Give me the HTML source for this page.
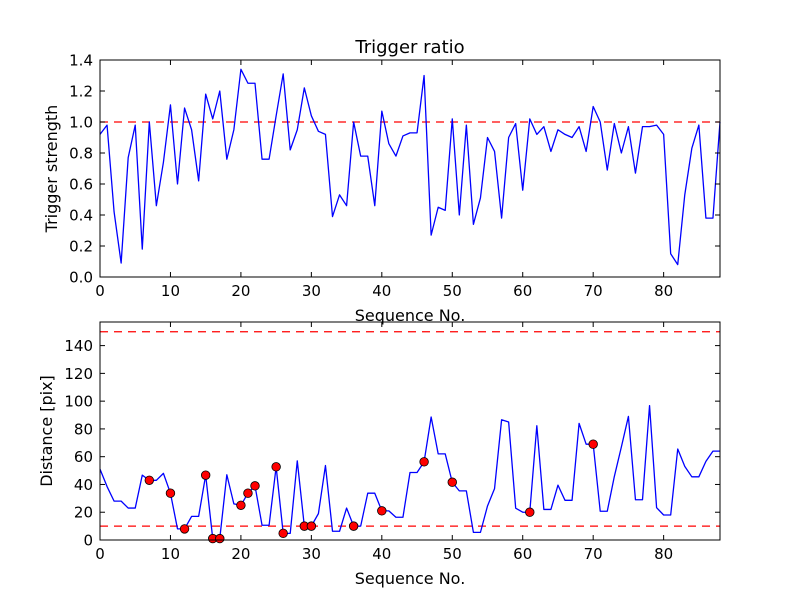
<!DOCTYPE html>
<html><head><meta charset="utf-8"><style>
body{margin:0;background:#fff;width:800px;height:600px;overflow:hidden}
svg text{font-family:"DejaVu Sans","Liberation Sans",sans-serif;fill:#000}
</style></head><body>
<svg id="chart" width="800" height="600" xmlns="http://www.w3.org/2000/svg"></svg>
<script>
const seqCount = 89;
const strength = [0.92,0.98,0.42,0.09,0.77,0.98,0.18,1.00,0.46,0.74,1.11,0.60,1.09,0.95,0.62,1.18,1.02,1.20,0.76,0.95,1.34,1.25,1.25,0.76,0.76,1.04,1.31,0.82,0.95,1.22,1.04,0.94,0.92,0.39,0.53,0.46,1.00,0.78,0.78,0.46,1.07,0.86,0.78,0.91,0.93,0.93,1.30,0.27,0.45,0.43,1.02,0.40,0.98,0.34,0.51,0.90,0.81,0.38,0.90,0.99,0.56,1.02,0.92,0.97,0.81,0.95,0.92,0.90,0.97,0.81,1.10,1.00,0.69,0.99,0.80,0.97,0.67,0.97,0.97,0.98,0.92,0.15,0.08,0.53,0.83,0.98,0.38,0.38,1.00];
const distance = [51,38.5,28,28,23,23,46.7,43,43,48,33.7,8,8,17,17,46.7,1,1,47,26,25,33.7,39,10.6,10.6,52.7,4.8,4.8,57,10,10,19,53.6,6.3,6.3,23,10,10,33.7,33.7,21,21,16.4,16.4,48.6,48.6,56.3,88.6,62,62,41.6,35.4,35.4,5.5,5.5,24.5,37,86.6,85,22.9,20,20,82.3,22,22,39.5,28.6,28.6,84,69,69,20.7,20.7,45.7,67,89,29,29,96.8,23.3,18,18,65.5,53,45.5,45.5,56.6,64,64];
const markerIdx = [7,10,12,15,16,17,20,21,22,25,26,29,30,36,40,46,50,61,70];
const xTicks = [0,10,20,30,40,50,60,70,80];
const topYTicks = [0.0,0.2,0.4,0.6,0.8,1.0,1.2,1.4];
const botYTicks = [0,20,40,60,80,100,120,140];
const topThreshold = [1.0];
const botThresholds = [10,150];

const NS="http://www.w3.org/2000/svg";
const svg=document.getElementById('chart');
function mk(tag,attrs,parent){const e=document.createElementNS(NS,tag);for(const k in attrs)e.setAttribute(k,attrs[k]);(parent||svg).appendChild(e);return e;}
const L=100,R=720;
const xS=v=>L+(v/88)*(R-L);

function panel(top,bot,ymax,prefix){
  const yS=v=>bot-(v/ymax)*(bot-top);
  const g=mk('g',{});
  
  
  return {g,yS};
}
function frame(p,top,bot,yTicks,fmt,prefix,ylabel){
  const g=p.g;
  const r=mk('rect',{x:L,y:top,width:R-L,height:bot-top,fill:'none',stroke:'#000','stroke-width':1},g);
  
  
  xTicks.forEach(t=>{const x=xS(t);
    mk('line',{x1:x,x2:x,y1:bot,y2:bot-5,stroke:'#000'},g);
    mk('line',{x1:x,x2:x,y1:top,y2:top+5,stroke:'#000'},g);
    const tx=mk('text',{x:x,y:bot+19,'text-anchor':'middle','font-size':15},g);
    tx.textContent=t;
    
    
  });
  yTicks.forEach(t=>{const y=p.yS(t);
    mk('line',{x1:L,x2:L+5,y1:y,y2:y,stroke:'#000'},g);
    mk('line',{x1:R,x2:R-5,y1:y,y2:y,stroke:'#000'},g);
    const tx=mk('text',{x:L-7,y:y+5.5,'text-anchor':'end','font-size':15},g);
    tx.textContent=fmt(t);
    
    
  });
  const xl=mk('text',{x:410,y:bot+44,'text-anchor':'middle','font-size':16},g);
  xl.textContent='Sequence No.';
  
  
  const cy=(top+bot)/2;
  const yl=mk('text',{x:0,y:0,'text-anchor':'middle','font-size':16,transform:`translate(${prefix==='top'?57:52},${cy}) rotate(-90)`},g);
  yl.textContent=ylabel;
  
  
}
function line(p,arr,prefix){
  const pts=arr.map((v,i)=>xS(i).toFixed(2)+','+p.yS(v).toFixed(2)).join(' ');
  const pl=mk('polyline',{points:pts,fill:'none',stroke:'#0000ff','stroke-width':1.3,'stroke-linejoin':'round'},p.g);
  
  
}
function hline(p,v,prefix){
  const y=p.yS(v);
  const l=mk('line',{x1:L,x2:R,y1:y,y2:y,stroke:'#ff0000','stroke-width':1.3,'stroke-dasharray':'8,6'},p.g);
  
  
}

const pt=panel(60,277,1.4,'top');
topThreshold.forEach(v=>hline(pt,v,'top'));
line(pt,strength,'top');
frame(pt,60,277,topYTicks,t=>t.toFixed(1),'top','Trigger strength');
const title=mk('text',{x:410,y:53,'text-anchor':'middle','font-size':18});
title.textContent='Trigger ratio';



const pb=panel(322,540,157,'bottom');
botThresholds.forEach(v=>hline(pb,v,'bottom'));
line(pb,distance,'bottom');
markerIdx.forEach(i=>{
  const c=mk('circle',{cx:xS(i),cy:pb.yS(distance[i]),r:4.3,fill:'#ff0000',stroke:'#000','stroke-width':0.8},pb.g);
  
  
});
frame(pb,322,540,botYTicks,t=>String(t),'bottom','Distance [pix]');
</script>
</body></html>
